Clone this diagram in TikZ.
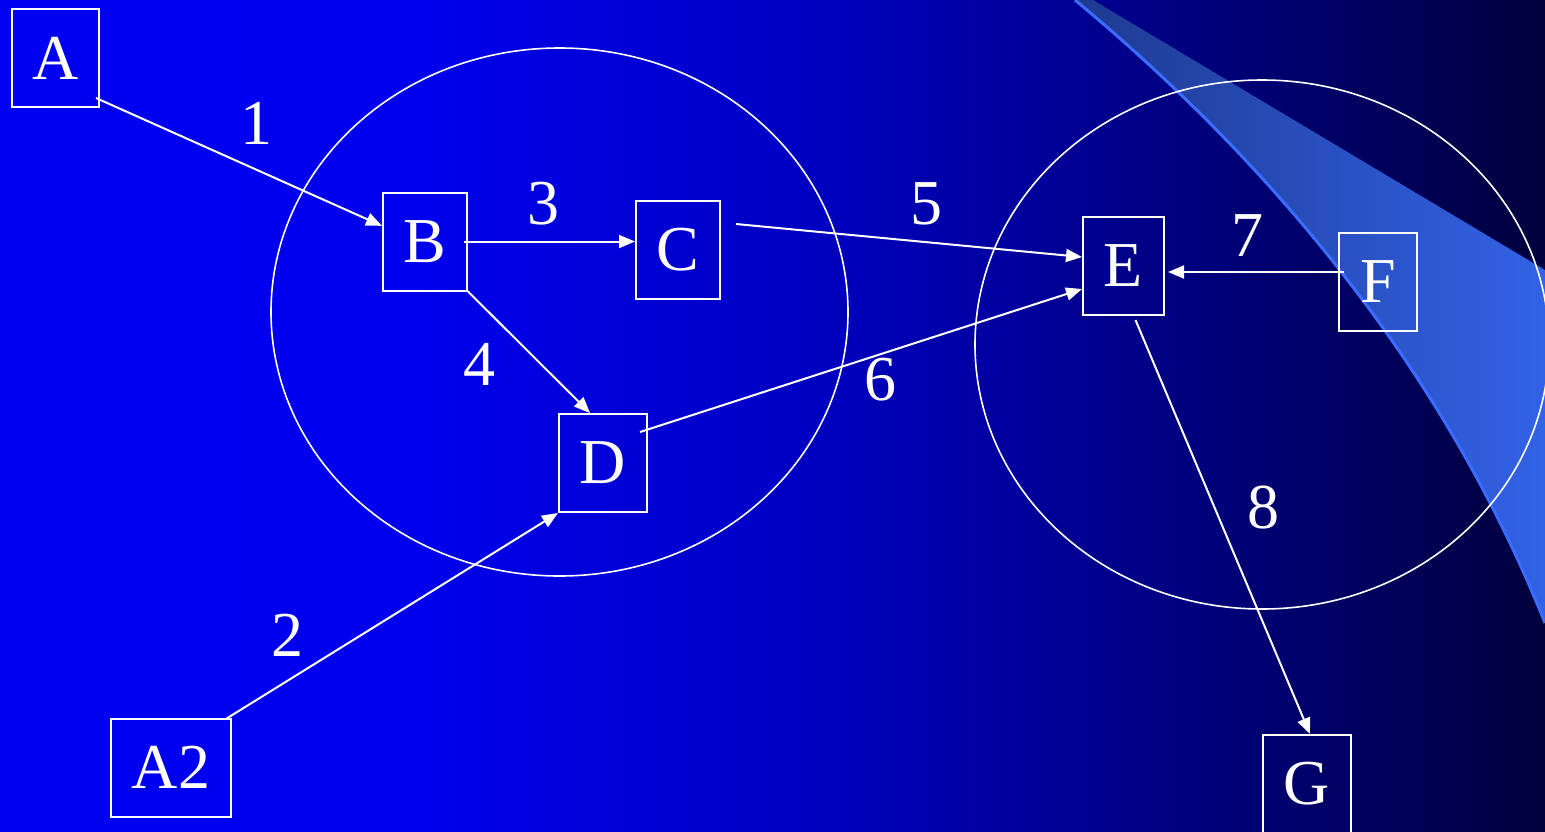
\documentclass[tikz,border=0pt]{standalone}
\usepackage{fontspec}
\setmainfont{Liberation Serif}
\usetikzlibrary{arrows.meta}
\definecolor{bgA}{RGB}{0,0,242}
\definecolor{bgB}{RGB}{0,0,238}
\definecolor{bgC}{RGB}{0,0,195}
\definecolor{bgD}{RGB}{0,0,142}
\definecolor{bgE}{RGB}{0,0,98}
\definecolor{bgF}{RGB}{0,0,60}
\definecolor{swL}{RGB}{30,58,145}
\definecolor{swR}{RGB}{50,98,230}
\definecolor{swStripe}{RGB}{58,108,255}
\pgfdeclarehorizontalshading{bgshade}{100bp}{color(0bp)=(bgA); color(25bp)=(bgA); color(37.94bp)=(bgB); color(50.89bp)=(bgC); color(60.6bp)=(bgD); color(68.69bp)=(bgE); color(75bp)=(bgF); color(100bp)=(bgF)}
\newcommand\bigfont{\fontsize{64}{70}\selectfont}
\tikzset{
  box/.style={draw=white, line width=2pt, inner sep=0pt, minimum height=98pt, text=white, font=\bigfont},
  conn/.style={draw=white, line width=2pt, -{Triangle[length=16pt,width=13pt]}},
  num/.style={text=white, font=\bigfont, inner sep=0pt},
  ring/.style={draw=white, line width=1.6pt},
}
\begin{document}
\begin{tikzpicture}[x=1pt,y=-1pt]
\useasboundingbox (0,0) rectangle (1545,831);
% background
\shade[shading=bgshade] (0,0) rectangle (1545,831);
% swoosh
\shade[left color=swL, right color=swR] (1093,0) -- (1545,270) -- (1545,623) .. controls (1445,373) and (1275,166) .. (1075,0) -- cycle;
\draw[swStripe, line width=3pt] (1075,0) .. controls (1275,166) and (1445,373) .. (1545,623);
% ellipses
\draw[ring] (559.5,312) ellipse [x radius=288.5pt, y radius=264pt];
\draw[ring] (1262,344.5) ellipse [x radius=287pt, y radius=264.5pt];
% nodes
\node[box, minimum width=87pt] (A) at (55.5,58) {A};
\node[box, minimum width=84pt] (B) at (425,241.5) {B};
\node[box, minimum width=84pt] (C) at (678,250) {C};
\node[box, minimum width=88pt] (D) at (603,463) {D};
\node[box, minimum width=81pt] (E) at (1123.5,266) {E};
\node[box, minimum width=78pt] (F) at (1378,282) {F};
\node[box, minimum width=88pt] (G) at (1307,784) {G};
\node[box, minimum width=120pt] (A2) at (171,767.5) {A2};
% connectors
\draw[conn] ([xshift=-4pt,yshift=10pt]A.south east) -- (B.160);
\draw[conn] ([xshift=-7pt,yshift=-2pt]A2.north east) -- (D.south west);
\draw[conn] ([xshift=-4pt]B.east) -- (B.east -| C.west);
\draw[conn] ([xshift=-2pt,yshift=2pt]B.south east) -- ([xshift=-13pt]D.north);
\draw[conn] ([xshift=15pt,yshift=26pt]C.east) -- ([yshift=9pt]E.west);
\draw[conn] ([xshift=-8pt,yshift=31pt]D.east) -- ([yshift=-23pt]E.west);
\draw[conn] ([xshift=6pt,yshift=10pt]F.west) -- ([xshift=3pt,yshift=-6pt]E.east);
\draw[conn] ([xshift=12pt,yshift=-4pt]E.south) -- ([xshift=3pt]G.north);
% labels
\node[num] (n1) at (256,123) {1};
\node[num] (n2) at (287,635) {2};
\node[num] (n3) at (543,204) {3};
\node[num] (n4) at (479,364) {4};
\node[num] (n5) at (926,203.5) {5};
\node[num] (n6) at (880,380) {6};
\node[num] (n7) at (1247,236) {7};
\node[num] (n8) at (1263,508) {8};
\end{tikzpicture}
\end{document}
